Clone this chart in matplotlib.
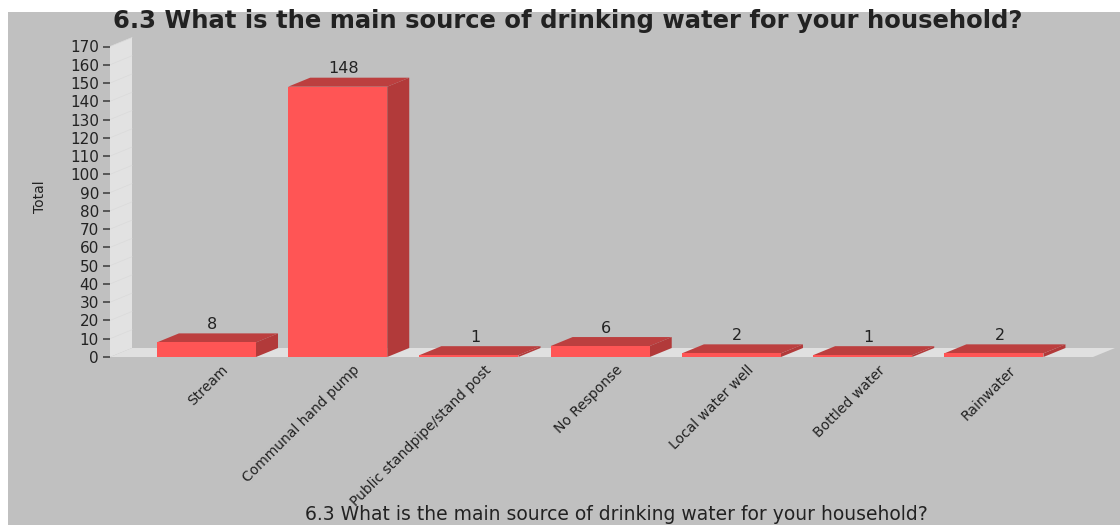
import matplotlib
matplotlib.use("Agg")
import matplotlib.pyplot as plt
from matplotlib.patches import Polygon, Rectangle
from matplotlib.transforms import ScaledTranslation

# ---- data ----
categories = [
    "Stream",
    "Communal hand pump",
    "Public standpipe/stand post",
    "No Response",
    "Local water well",
    "Bottled water",
    "Rainwater",
]
totals = [8, 148, 1, 6, 2, 1, 2]
y_ticks = list(range(0, 171, 10))
title = "6.3 What is the main source of drinking water for your household?"
x_label = "6.3 What is the main source of drinking water for your household?"
y_label = "Total"

# ---- styling ----
W, H, DPI = 1120, 525, 100
BG = "#C0C0C0"
WALL = "#E2E2E2"
FLOOR = "#E0E0E0"
FRONT = "#FF5555"
TOP = "#BC3F3F"
SIDE = "#B23A3A"
TEXT = "#222222"

fig = plt.figure(figsize=(W / DPI, H / DPI), dpi=DPI, facecolor="white")
fig.patches.append(Rectangle((8 / W, 0), 1 - 8 / W, 1 - 12 / H,
                             transform=fig.transFigure, facecolor=BG,
                             edgecolor="none", zorder=-5))

# front plane of the 3D plot, in pixels
left_px, right_px, base_px, top_px = 110, 1093, 357, 46.5
ax = fig.add_axes([left_px / W, 1 - base_px / H,
                   (right_px - left_px) / W, (base_px - top_px) / H])
x0, x1 = -0.735, 6.755
ymax = 170
ax.set_xlim(x0, x1)
ax.set_ylim(0, ymax)
ax.patch.set_visible(False)
for s in ax.spines.values():
    s.set_visible(False)

# depth offset of the 3D effect, converted to data units
px_x = (right_px - left_px) / (x1 - x0)
px_y = (base_px - top_px) / ymax
ddx = 22 / px_x
ddy = 9 / px_y

# left wall and floor
ax.add_patch(Polygon([(x0, 0), (x0 + ddx, ddy), (x0 + ddx, ymax + ddy), (x0, ymax)],
                     closed=True, facecolor=WALL, edgecolor="none",
                     clip_on=False, zorder=1))
for t in y_ticks[1:]:
    ax.plot([x0, x0 + ddx], [t, t + ddy], color="#DADADA", lw=0.5,
            clip_on=False, zorder=1.5)
ax.add_patch(Polygon([(x0, 0), (x1, 0), (x1 + ddx, ddy), (x0 + ddx, ddy)],
                     closed=True, facecolor=FLOOR, edgecolor="none",
                     clip_on=False, zorder=1))

# bars
bar_w = 0.755
xs = list(range(len(categories)))
ax.bar(xs, totals, width=bar_w, color=FRONT, edgecolor="none", zorder=3,
       clip_on=False)
for x, v in zip(xs, totals):
    l, r = x - bar_w / 2, x + bar_w / 2
    ax.add_patch(Polygon([(l, v), (r, v), (r + ddx, v + ddy), (l + ddx, v + ddy)],
                         closed=True, facecolor=TOP, edgecolor="none",
                         clip_on=False, zorder=2.5))
    ax.add_patch(Polygon([(r, 0), (r + ddx, ddy), (r + ddx, v + ddy), (r, v)],
                         closed=True, facecolor=SIDE, edgecolor="none",
                         clip_on=False, zorder=2.5))
    ax.text(x + 6 / px_x, v + ddy + 0.8, str(v), ha="center", va="bottom",
            fontsize=11.5, color=TEXT, zorder=4, clip_on=False)

# axes ticks and labels
ax.set_xticks([])
ax.set_yticks(y_ticks)
ax.set_yticklabels([str(t) for t in y_ticks])
ax.tick_params(axis="y", direction="out", length=5, width=1.2, color="#444444",
               labelsize=11, labelcolor=TEXT, pad=3)

lab_off = ScaledTranslation(15 / DPI, -6 / DPI, fig.dpi_scale_trans)
for x, name in zip(xs, categories):
    ax.text(x, 0, name, rotation=45, ha="right", va="top",
            rotation_mode="anchor", fontsize=10, color=TEXT,
            transform=ax.transData + lab_off, clip_on=False)

fig.text(40 / W, 1 - 197 / H, y_label, rotation=90, ha="center", va="center",
         fontsize=10, color=TEXT, family=["Liberation Sans Narrow", "DejaVu Sans"])

t_title = fig.text(568 / W, 1 - 21 / H, title, ha="center", va="center",
                   fontsize=14, fontweight="bold", color=TEXT)
t_xlab = fig.text(616 / W, 1 - 514 / H, x_label, ha="center", va="center",
                  fontsize=10, color=TEXT)

# size the two long captions to their intended widths
fig.canvas.draw()
renderer = fig.canvas.get_renderer()
for txt, target in ((t_title, 913), (t_xlab, 624)):
    w = txt.get_window_extent(renderer=renderer).width
    txt.set_fontsize(txt.get_fontsize() * target / w)

fig.savefig("out.png", dpi=DPI, facecolor=fig.get_facecolor())
